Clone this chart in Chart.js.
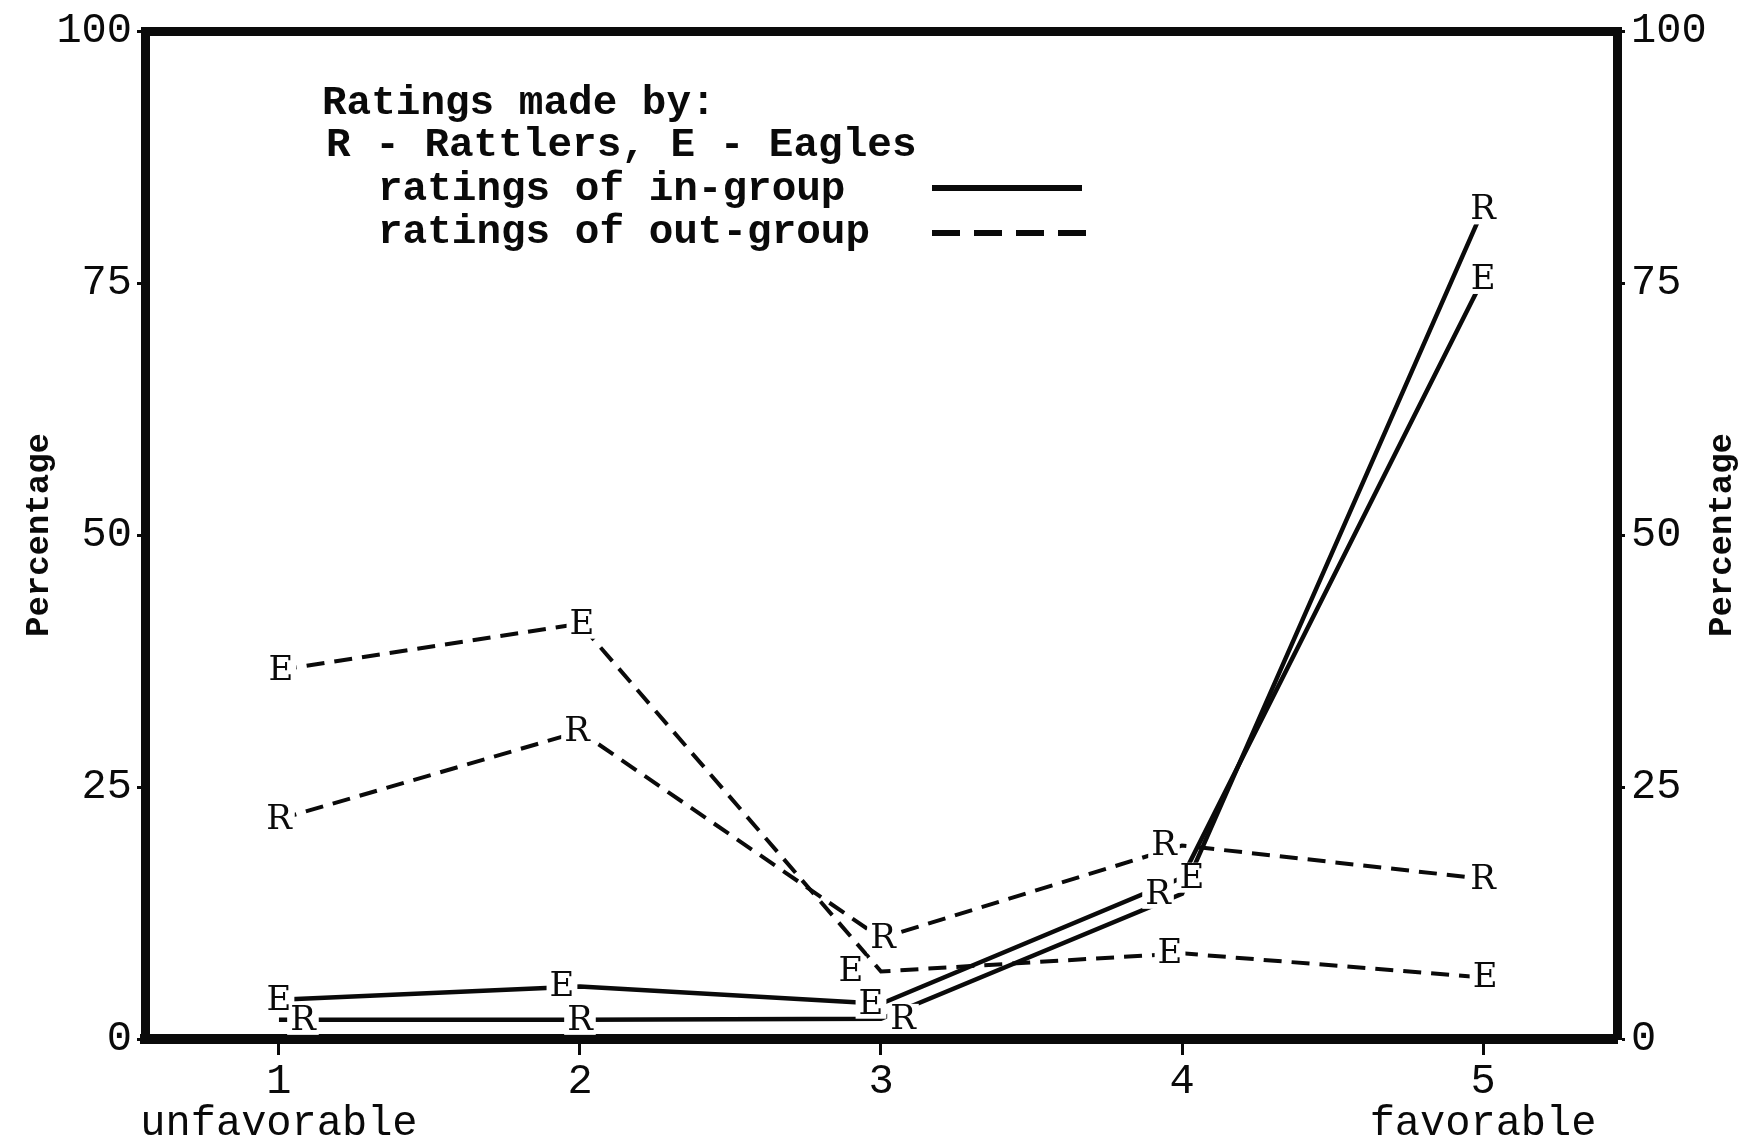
<!DOCTYPE html>
<html><head><meta charset="utf-8">
<script src="https://cdn.jsdelivr.net/npm/chart.js@4.4.1/dist/chart.umd.min.js"></script>
<style>html,body{margin:0;padding:0;background:#fff}#wrap{width:1749px;height:1141px;position:relative}</style>
</head><body><div id="wrap"><canvas id="c"></canvas></div>
<script>
// ---- data ----
const categories = [1, 2, 3, 4, 5];
const xTickLabels = ['1', '2', '3', '4', '5'];
const xEndLabels = ['unfavorable', '', '', '', 'favorable'];
const yTicks = [0, 25, 50, 75, 100];
const rattlersIn = [1.9, 1.9, 2.0, 14.4, 82.3];
const eaglesIn = [3.9, 5.2, 3.5, 16.0, 75.4];
const rattlersOut = [21.8, 30.5, 10.0, 19.2, 15.9];
const eaglesOut = [36.6, 41.2, 6.7, 8.5, 6.1];
const legendTitle = 'Ratings made by:';
const legendKey = 'R - Rattlers, E - Eagles';
const legendIn = 'ratings of in-group';
const legendOut = 'ratings of out-group';
const yTitle = 'Percentage';

// ---- styling ----
const MONO = '"Liberation Mono", "Courier New", monospace';
const SERIF = '"DejaVu Serif", serif';
const INK = '#0a0a0a';
const DASH = [18, 10];

function series(vals) { return categories.map((c, i) => ({ x: c, y: vals[i] })); }

const datasets = [
  { label: 'Rattlers in-group', letter: 'R', data: series(rattlersIn), borderDash: [], borderWidth: 4.5, letterDx: [24, 0, 22, -24, 0] },
  { label: 'Eagles in-group', letter: 'E', data: series(eaglesIn), borderDash: [], borderWidth: 4.5, letterDx: [0, -18, -10, 10, 0] },
  { label: 'Rattlers out-group', letter: 'R', data: series(rattlersOut), borderDash: DASH, borderWidth: 4, letterDx: [0, -3, 2, -18, 0] },
  { label: 'Eagles out-group', letter: 'E', data: series(eaglesOut), borderDash: DASH, borderWidth: 4, letterDx: [2, 2, -30, -12, 2] }
].map(d => Object.assign({ borderColor: INK, pointRadius: 0, fill: false, tension: 0, xAxisID: 'x', yAxisID: 'y' }, d));

const letterPlugin = {
  id: 'letters',
  afterDatasetsDraw(chart) {
    const ctx = chart.ctx;
    ctx.save();
    ctx.font = '34px ' + SERIF;
    ctx.textAlign = 'center';
    ctx.textBaseline = 'middle';
    const items = [];
    chart.data.datasets.forEach((ds, di) => {
      chart.getDatasetMeta(di).data.forEach((pt, i) => {
        items.push({ x: pt.x + (ds.letterDx[i] || 0), y: pt.y, t: ds.letter });
      });
    });
    ctx.fillStyle = '#fff';
    items.forEach(it => { const w = ctx.measureText(it.t).width; ctx.fillRect(it.x - w / 2 - 3, it.y - 15, w + 6, 30); });
    ctx.fillStyle = INK;
    items.forEach(it => ctx.fillText(it.t, it.x, it.y + 1));
    ctx.restore();
  }
};

const decoPlugin = {
  id: 'deco',
  afterDraw(chart) {
    const ctx = chart.ctx;
    const a = chart.chartArea;
    ctx.save();
    ctx.fillStyle = INK;
    ctx.strokeStyle = INK;
    ctx.textBaseline = 'middle';
    ctx.textAlign = 'left';
    ctx.font = 'bold 41px ' + MONO;
    ctx.fillText(legendTitle, 322, 104);
    ctx.fillText(legendKey, 326, 146);
    ctx.fillText(legendIn, 378, 190);
    ctx.fillText(legendOut, 378, 233);
    ctx.lineWidth = 6;
    ctx.beginPath(); ctx.moveTo(932, 188); ctx.lineTo(1082, 188); ctx.stroke();
    ctx.setLineDash([28, 14]);
    ctx.beginPath(); ctx.moveTo(932, 233); ctx.lineTo(1086, 233); ctx.stroke();
    ctx.setLineDash([]);
    // right axis title (reads bottom to top)
    ctx.font = 'bold 34px ' + MONO;
    ctx.textAlign = 'center';
    ctx.translate(1722, (a.top + a.bottom) / 2);
    ctx.rotate(-Math.PI / 2);
    ctx.fillText(yTitle, 0, 0);
    ctx.restore();
  }
};

const yTickBuild = s => { s.ticks = yTicks.map(v => ({ value: v })); };
const xTickBuild = s => { s.ticks = categories.map(v => ({ value: v })); };
const tickFont = { family: MONO, size: 42, lineHeight: 1.0 };

new Chart(document.getElementById('c'), {
  type: 'line',
  data: { datasets },
  options: {
    responsive: true, maintainAspectRatio: false, animation: false, devicePixelRatio: 1,
    layout: { padding: 0 },
    plugins: { legend: { display: false }, tooltip: { enabled: false } },
    scales: {
      x: {
        type: 'linear', position: 'bottom', min: 0.555, max: 5.445,
        afterBuildTicks: xTickBuild,
        afterFit: s => { s.height = 102; },
        ticks: {
          autoSkip: false, maxRotation: 0, padding: 6, color: INK, font: tickFont,
          callback: (v) => { const i = categories.indexOf(v); return xEndLabels[i] ? [xTickLabels[i], xEndLabels[i]] : xTickLabels[i]; }
        },
        grid: { drawOnChartArea: false, drawTicks: true, tickLength: 16, tickWidth: 3, tickColor: INK },
        border: { display: true, color: INK, width: 10 }
      },
      xTop: {
        type: 'linear', position: 'top', min: 0.555, max: 5.445,
        afterFit: s => { s.height = 31; },
        ticks: { display: false },
        grid: { display: false, drawTicks: false },
        border: { display: true, color: INK, width: 9 }
      },
      y: {
        position: 'left', min: 0, max: 100,
        afterBuildTicks: yTickBuild,
        afterFit: s => { s.width = 145; },
        ticks: { padding: 5, color: INK, font: tickFont },
        grid: { drawOnChartArea: false, drawTicks: true, tickLength: 8, tickWidth: 3, tickColor: INK },
        border: { display: true, color: INK, width: 9 },
        title: { display: true, text: yTitle, color: INK, font: { family: MONO, size: 34, weight: 'bold' }, padding: { top: 19, bottom: 0 } }
      },
      y2: {
        position: 'right', min: 0, max: 100,
        afterBuildTicks: yTickBuild,
        afterFit: s => { s.width = 132; },
        ticks: { padding: 6, color: INK, font: tickFont },
        grid: { drawOnChartArea: false, drawTicks: true, tickLength: 8, tickWidth: 3, tickColor: INK },
        border: { display: true, color: INK, width: 9 }
      }
    }
  },
  plugins: [letterPlugin, decoPlugin]
});
</script></body></html>
